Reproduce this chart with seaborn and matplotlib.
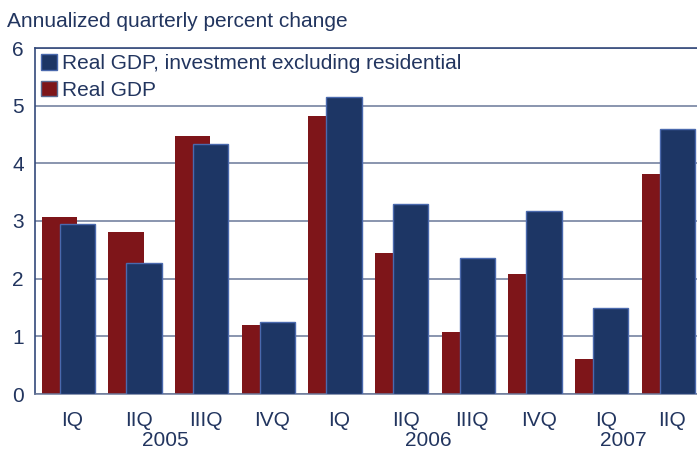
import numpy as np
import pandas as pd
import matplotlib
matplotlib.use('Agg')
import matplotlib.pyplot as plt
from matplotlib.patches import Patch
import seaborn as sns

# quarterly data
quarters = ['IQ', 'IIQ', 'IIIQ', 'IVQ', 'IQ', 'IIQ', 'IIIQ', 'IVQ', 'IQ', 'IIQ']
years = ['2005', '2005', '2005', '2005', '2006', '2006', '2006', '2006', '2007', '2007']
real_gdp = [3.07, 2.81, 4.47, 1.20, 4.82, 2.44, 1.07, 2.08, 0.61, 3.81]
gdp_ex_res = [2.95, 2.27, 4.33, 1.24, 5.15, 3.30, 2.35, 3.18, 1.49, 4.59]
year_labels = ['2005', '2006', '2007']

gdp_name = 'Real GDP'
ex_name = 'Real GDP, investment excluding residential'

period = [y + ' ' + q for y, q in zip(years, quarters)]
df = pd.DataFrame({
    'period': period + period,
    'value': real_gdp + gdp_ex_res,
    'series': [gdp_name] * len(period) + [ex_name] * len(period),
})

red = '#7e1519'
blue = '#1d3665'
blue_edge = '#4a69ad'
txt = '#22355f'
fs = 15

sns.set_theme(style='white')
plt.rcParams['font.family'] = ['Liberation Sans', 'DejaVu Sans']

fig = plt.figure(figsize=(6.97, 4.51), dpi=100)
ax = fig.add_axes([35 / 697, 57 / 451, 666.7 / 697, 346 / 451])

sns.barplot(data=df, x='period', y='value', hue='series', hue_order=[gdp_name, ex_name],
            palette=[red, blue], saturation=1, width=0.54, dodge=True, legend=False, ax=ax)

# widen bars so the blue one overlaps the red one
for i, cont in enumerate(ax.containers):
    for bar in cont:
        c = bar.get_x() + bar.get_width() / 2
        bar.set_width(0.53)
        bar.set_x(c - 0.265)
        if i == 1:
            bar.set_zorder(3)
            bar.set_edgecolor(blue_edge)
            bar.set_linewidth(1)
        else:
            bar.set_zorder(2)
            bar.set_linewidth(0)

ax.set_xlim(-0.5, 9.5)
ax.set_ylim(0, 6)
ax.set_yticks(range(0, 7))
ax.set_xticks(np.arange(len(quarters)) + 0.06)
ax.set_xticklabels(quarters)
ax.set_xlabel('')
ax.set_ylabel('')
ax.yaxis.grid(True, color='#6a7898', lw=1.1)
ax.set_axisbelow(True)
ax.tick_params(axis='both', length=0, labelsize=fs, colors=txt)
ax.tick_params(axis='x', pad=12)
ax.tick_params(axis='y', pad=8)

for side in ['left', 'top']:
    ax.spines[side].set_color('#34497a')
    ax.spines[side].set_linewidth(1.2)
ax.spines['bottom'].set_color('#6a7898')
ax.spines['bottom'].set_linewidth(1.1)
ax.spines['right'].set_visible(False)

year_pos = [1.45, 5.4, 8.32]
for lab, xp in zip(year_labels, year_pos):
    ax.text(xp, -0.151, lab, transform=ax.get_xaxis_transform(), ha='center',
            va='baseline', fontsize=fs, color=txt)

fig.text(7 / 697, 1 - 27 / 451, 'Annualized quarterly percent change',
         fontsize=fs, color=txt, va='baseline')

handles = [Patch(facecolor=blue, edgecolor=blue_edge, lw=1),
           Patch(facecolor=red, edgecolor='#5a6a90', lw=1)]
ax.legend(handles, [ex_name, gdp_name], loc='upper left', frameon=False,
          fontsize=fs, labelcolor=txt, handlelength=0.75, handleheight=0.75,
          handletextpad=0.25, labelspacing=0.35, borderpad=0, borderaxespad=0.3)

fig.savefig('out.png', dpi=100)
